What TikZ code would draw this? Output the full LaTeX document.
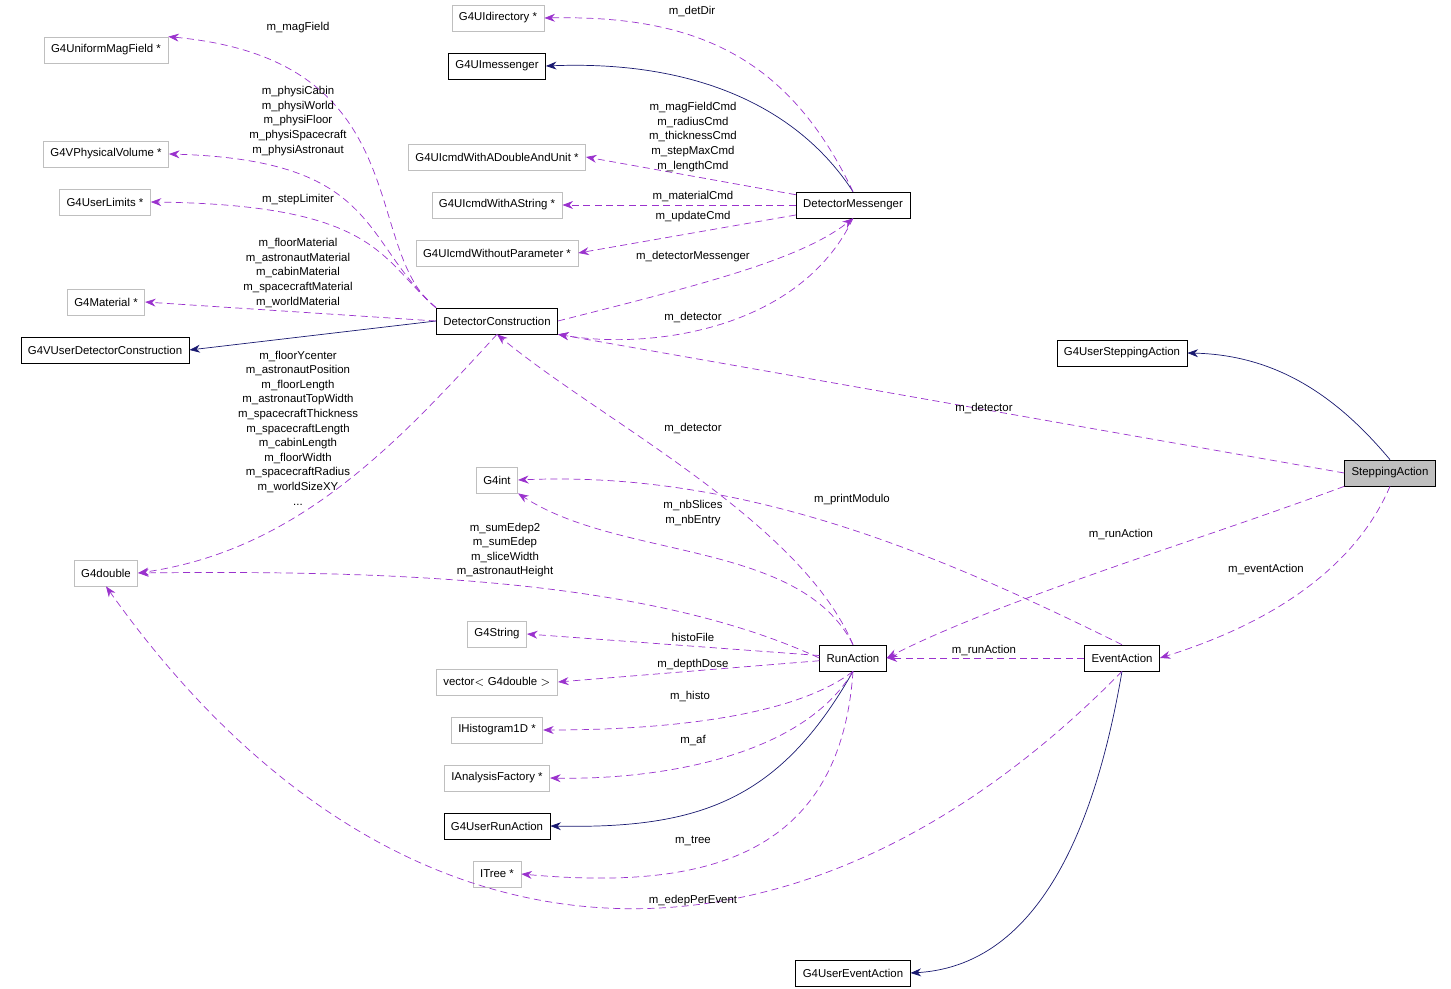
\documentclass[tikz,border=0pt]{standalone}
\usepackage{fontspec}
\setmainfont{Liberation Sans}
\usetikzlibrary{arrows.meta}
\definecolor{edgeblue}{RGB}{25,25,112}
\definecolor{edgepurple}{RGB}{154,50,205}
\definecolor{boxgray}{RGB}{191,191,191}

\begin{document}
\begin{tikzpicture}[x=0.02cm,y=-0.02cm,
  every node/.style={font=\fontsize{6.5}{8.3}\selectfont},
  cls/.style={draw=black,fill=white,minimum height=0.52cm,inner xsep=4pt},
  ext/.style={draw=boxgray,fill=white,minimum height=0.52cm,inner xsep=4pt},
  inh/.style={edgeblue,-{Stealth[length=6pt,width=4.5pt]}},
  use/.style={edgepurple,dashed,dash pattern=on 4pt off 2.5pt,-{Stealth[length=6pt,width=4.5pt]}},
  lbl/.style={align=center,inner sep=0pt}]
\useasboundingbox (0,0) rectangle (1451,989);
% classes
\node (uidir) at (498,18) [ext] {G4UIdirectory *};
\node (uimsg) at (497,66) [cls] {G4UImessenger};
\node (magf) at (106,50) [ext] {G4UniformMagField *};
\node (physv) at (106,154) [ext] {G4VPhysicalVolume *};
\node (cmdDU) at (497,157) [ext] {G4UIcmdWithADoubleAndUnit *};
\node (cmdS) at (497,205) [ext] {G4UIcmdWithAString *};
\node (ulim) at (105,202) [ext] {G4UserLimits *};
\node (detmsg) at (853,205) [cls] {DetectorMessenger};
\node (cmdN) at (497,253) [ext] {G4UIcmdWithoutParameter *};
\node (mat) at (106,302) [ext] {G4Material *};
\node (detcon) at (497,321) [cls] {DetectorConstruction};
\node (vudc) at (105,350) [cls] {G4VUserDetectorConstruction};
\node (usa) at (1122,353) [cls] {G4UserSteppingAction};
\node (step) at (1390,473) [cls,fill=boxgray] {SteppingAction};
\node (gint) at (497,480) [ext] {G4int};
\node (gdbl) at (106,573) [ext] {G4double};
\node (gstr) at (497,634) [ext] {G4String};
\node (run) at (853,658) [cls] {RunAction};
\node (evt) at (1122,658) [cls] {EventAction};
\node (vec) at (497,682) [ext] {vector$<$ G4double $>$};
\node (histo) at (497,730) [ext] {IHistogram1D *};
\node (af) at (497,778) [ext] {IAnalysisFactory *};
\node (ura) at (497,826) [cls] {G4UserRunAction};
\node (tree) at (497,874) [ext] {ITree *};
\node (uea) at (853,973) [cls] {G4UserEventAction};
% inheritance
\draw [inh] (detmsg.north) .. controls (800,110) and (700,60) .. (uimsg.east);
\draw [inh] (detcon.west) -- (vudc.east);
\draw [inh] (step.north) .. controls (1340,400) and (1280,355) .. (usa.east);
\draw [inh] (run.south) .. controls (780,800) and (700,829) .. (ura.east);
\draw [inh] (evt.south) .. controls (1100,800) and (1050,965) .. (uea.east);
% members
\draw [use] (detmsg.north) .. controls (790,60) and (700,15) .. (uidir.east);
\draw [use] (detmsg) -- (cmdDU.east);
\draw [use] (detmsg) -- (cmdS.east);
\draw [use] (detmsg) -- (cmdN.east);
\draw [use] (detcon.east) .. controls (700,285) and (800,260) .. (detmsg.south);
\draw [use] (detmsg.south) .. controls (800,330) and (650,350) .. (detcon.south east);
\draw [use] (detcon.north west) .. controls (360,250) and (420,60) .. (magf.north east);
\draw [use] (detcon.north west) .. controls (360,240) and (380,160) .. (physv.east);
\draw [use] (detcon.north west) .. controls (380,260) and (380,205) .. (ulim.east);
\draw [use] (detcon.west) -- (mat.east);
\draw [use] (detcon.south) .. controls (400,440) and (300,550) .. (gdbl.east);
\draw [use] (step.west) -- (detcon.south east);
\draw [use] (run.north) .. controls (800,520) and (600,420) .. (detcon.south);
\draw [use] (evt.north) .. controls (950,560) and (750,470) .. (gint.east);
\draw [use] (run.north) .. controls (800,540) and (620,560) .. (gint.south east);
\draw [use] (run.west) .. controls (650,580) and (400,570) .. (gdbl.east);
\draw [use] (step.south west) .. controls (1200,540) and (1000,600) .. (run.east);
\draw [use] (step.south) .. controls (1350,580) and (1250,630) .. (evt.east);
\draw [use] (evt) -- (run);
\draw [use] (run) -- (gstr.east);
\draw [use] (run) -- (vec.east);
\draw [use] (run.south) .. controls (790,720) and (650,730) .. (histo.east);
\draw [use] (run.south) .. controls (800,760) and (650,780) .. (af.east);
\draw [use] (run.south) .. controls (840,860) and (700,890) .. (tree.east);
\draw [use] (evt.south) .. controls (800,1000) and (400,1000) .. (gdbl.south);
% member labels
\node (lDetDir) at (692,12) [lbl] {m\_detDir};
\node (lCmds) at (693,137) [lbl] {m\_magFieldCmd\\m\_radiusCmd\\m\_thicknessCmd\\m\_stepMaxCmd\\m\_lengthCmd};
\node (lMatCmd) at (693,197) [lbl] {m\_materialCmd};
\node (lUpd) at (693,217) [lbl] {m\_updateCmd};
\node (lDetMsg) at (693,257) [lbl] {m\_detectorMessenger};
\node (lDet1) at (693,318) [lbl] {m\_detector};
\node (lMag) at (298,28) [lbl] {m\_magField};
\node (lPhys) at (298,121) [lbl] {m\_physiCabin\\m\_physiWorld\\m\_physiFloor\\m\_physiSpacecraft\\m\_physiAstronaut};
\node (lLim) at (298,200) [lbl] {m\_stepLimiter};
\node (lMat) at (298,273) [lbl] {m\_floorMaterial\\m\_astronautMaterial\\m\_cabinMaterial\\m\_spacecraftMaterial\\m\_worldMaterial};
\node (lDims) at (298,428) [lbl] {m\_floorYcenter\\m\_astronautPosition\\m\_floorLength\\m\_astronautTopWidth\\m\_spacecraftThickness\\m\_spacecraftLength\\m\_cabinLength\\m\_floorWidth\\m\_spacecraftRadius\\m\_worldSizeXY\\...};
\node (lDet2) at (984,408) [lbl] {m\_detector};
\node (lDet3) at (693,428) [lbl] {m\_detector};
\node (lPrint) at (852,500) [lbl] {m\_printModulo};
\node (lSlices) at (693,513) [lbl] {m\_nbSlices\\m\_nbEntry};
\node (lEdep) at (505,550) [lbl] {m\_sumEdep2\\m\_sumEdep\\m\_sliceWidth\\m\_astronautHeight};
\node (lRun1) at (1121,534) [lbl] {m\_runAction};
\node (lEvt) at (1266,569) [lbl] {m\_eventAction};
\node (lRun2) at (984,650) [lbl] {m\_runAction};
\node (lHisFile) at (693,637) [lbl] {histoFile};
\node (lDose) at (693,665) [lbl] {m\_depthDose};
\node (lHisto) at (690,696) [lbl] {m\_histo};
\node (lAf) at (693,741) [lbl] {m\_af};
\node (lTree) at (693,841) [lbl] {m\_tree};
\node (lPerEvt) at (693,901) [lbl] {m\_edepPerEvent};
\end{tikzpicture}
\end{document}
